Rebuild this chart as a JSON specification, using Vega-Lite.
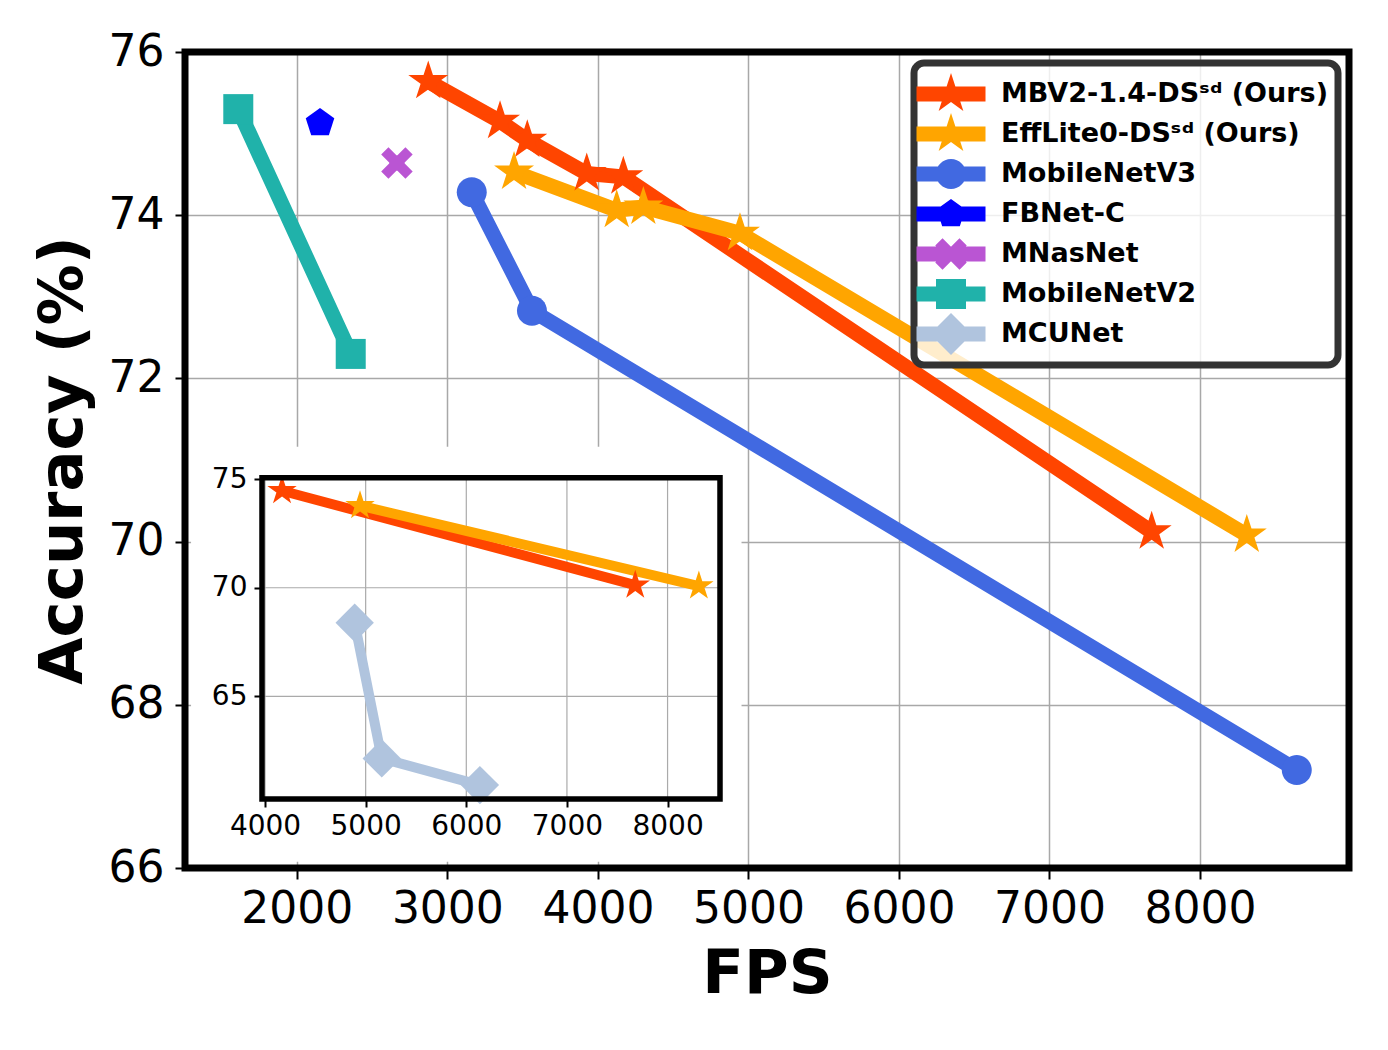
{
  "$schema": "https://vega.github.io/schema/vega-lite/v6.json",
  "width": 1164,
  "height": 816,
  "autosize": {"type": "none"},
  "padding": {"left": 185, "top": 52, "right": 39, "bottom": 182},
  "background": "white",
  "config": {
    "view": {"stroke": null},
    "font": "DejaVu Sans",
    "axis": {"labelFont": "DejaVu Sans", "titleFont": "DejaVu Sans"},
    "legend": {"strokeWidth": 7, "labelFont": "DejaVu Sans"}
  },
  "datasets": {
    "main": [
      {"model": "MBV2-1.4-DSˢᵈ (Ours)", "fps": 2873, "acc": 75.64},
      {"model": "MBV2-1.4-DSˢᵈ (Ours)", "fps": 3350, "acc": 75.15},
      {"model": "MBV2-1.4-DSˢᵈ (Ours)", "fps": 3531, "acc": 74.92},
      {"model": "MBV2-1.4-DSˢᵈ (Ours)", "fps": 3926, "acc": 74.51},
      {"model": "MBV2-1.4-DSˢᵈ (Ours)", "fps": 4169, "acc": 74.47},
      {"model": "MBV2-1.4-DSˢᵈ (Ours)", "fps": 7679, "acc": 70.12},
      {"model": "EffLite0-DSˢᵈ (Ours)", "fps": 3443, "acc": 74.53},
      {"model": "EffLite0-DSˢᵈ (Ours)", "fps": 4125, "acc": 74.06},
      {"model": "EffLite0-DSˢᵈ (Ours)", "fps": 4302, "acc": 74.10},
      {"model": "EffLite0-DSˢᵈ (Ours)", "fps": 4944, "acc": 73.78},
      {"model": "EffLite0-DSˢᵈ (Ours)", "fps": 8311, "acc": 70.08},
      {"model": "MobileNetV3", "fps": 3162, "acc": 74.28},
      {"model": "MobileNetV3", "fps": 3562, "acc": 72.83},
      {"model": "MobileNetV3", "fps": 8643, "acc": 67.20},
      {"model": "FBNet-C", "fps": 2154, "acc": 75.13},
      {"model": "MNasNet", "fps": 2665, "acc": 74.64},
      {"model": "MobileNetV2", "fps": 1611, "acc": 75.30},
      {"model": "MobileNetV2", "fps": 2358, "acc": 72.30}
    ],
    "inset": [
      {"model": "MBV2-1.4-DSˢᵈ (Ours)", "fps": 4169, "acc": 74.47},
      {"model": "MBV2-1.4-DSˢᵈ (Ours)", "fps": 7679, "acc": 70.12},
      {"model": "EffLite0-DSˢᵈ (Ours)", "fps": 4944, "acc": 73.78},
      {"model": "EffLite0-DSˢᵈ (Ours)", "fps": 8311, "acc": 70.08},
      {"model": "MCUNet", "fps": 4891, "acc": 68.39},
      {"model": "MCUNet", "fps": 5160, "acc": 62.14},
      {"model": "MCUNet", "fps": 6135, "acc": 60.91}
    ],
    "insetGridX": [{"v": 4000}, {"v": 5000}, {"v": 6000}, {"v": 7000}, {"v": 8000}],
    "insetGridY": [{"v": 65}, {"v": 70}, {"v": 75}]
  },
  "layer": [
    {
      "layer": [
        {
          "data": {"name": "main"},
          "mark": {"type": "line", "strokeWidth": 15, "strokeJoin": "round", "strokeCap": "round"},
          "encoding": {
            "x": {
              "field": "fps", "type": "quantitative",
              "scale": {"domain": [1257, 8990], "nice": false, "zero": false},
              "axis": {
                "title": "FPS", "titleFontSize": 61, "titleFontWeight": "bold", "titleColor": "black", "titlePadding": 13,
                "labelFontSize": 44, "labelColor": "black", "labelPadding": 8, "labelFlush": false, "labelOverlap": false,
                "tickSize": 11, "tickWidth": 2, "tickColor": "black", "domain": false,
                "grid": true, "gridColor": "#a8a8a8", "gridWidth": 1.5,
                "values": [2000, 3000, 4000, 5000, 6000, 7000, 8000], "format": "d", "zindex": 0
              }
            },
            "y": {
              "field": "acc", "type": "quantitative",
              "scale": {"domain": [66, 76], "nice": false, "zero": false},
              "axis": {
                "title": "Accuracy (%)", "titleFontSize": 61, "titleFontWeight": "bold", "titleColor": "black", "titlePadding": 14,
                "labelFontSize": 44, "labelColor": "black", "labelPadding": 11, "labelFlush": false, "labelOverlap": false,
                "tickSize": 10, "tickWidth": 2, "tickColor": "black", "domain": false,
                "grid": true, "gridColor": "#a8a8a8", "gridWidth": 1.5,
                "values": [66, 68, 70, 72, 74, 76], "format": "d", "zindex": 0
              }
            },
            "color": {
              "field": "model", "type": "nominal", "legend": null,
              "scale": {
                "domain": ["MBV2-1.4-DSˢᵈ (Ours)", "EffLite0-DSˢᵈ (Ours)", "MobileNetV3", "FBNet-C", "MNasNet", "MobileNetV2", "MCUNet"],
                "range": ["#FF4500", "#FFA500", "#4169E1", "#0000FF", "#BA55D3", "#20B2AA", "#B0C4DE"]
              }
            }
          }
        },
        {
          "data": {"name": "main"},
          "mark": {"type": "point", "filled": true, "size": 900, "opacity": 1, "strokeWidth": 0},
          "encoding": {
            "x": {"field": "fps", "type": "quantitative"},
            "y": {"field": "acc", "type": "quantitative"},
            "color": {
              "field": "model", "type": "nominal", "legend": null,
              "scale": {
                "domain": ["MBV2-1.4-DSˢᵈ (Ours)", "EffLite0-DSˢᵈ (Ours)", "MobileNetV3", "FBNet-C", "MNasNet", "MobileNetV2", "MCUNet"],
                "range": ["#FF4500", "#FFA500", "#4169E1", "#0000FF", "#BA55D3", "#20B2AA", "#B0C4DE"]
              }
            },
            "shape": {
              "field": "model", "type": "nominal", "legend": null,
              "scale": {
                "domain": ["MBV2-1.4-DSˢᵈ (Ours)", "EffLite0-DSˢᵈ (Ours)", "MobileNetV3", "FBNet-C", "MNasNet", "MobileNetV2", "MCUNet"],
                "range": [
                  "M0,-1.4L0.314,-0.433L1.331,-0.433L0.509,0.165L0.823,1.133L0,0.535L-0.823,1.133L-0.509,0.165L-1.331,-0.433L-0.314,-0.433Z",
                  "M0,-1.4L0.314,-0.433L1.331,-0.433L0.509,0.165L0.823,1.133L0,0.535L-0.823,1.133L-0.509,0.165L-1.331,-0.433L-0.314,-0.433Z",
                  "M1,0C1,0.5523,0.5523,1,0,1C-0.5523,1,-1,0.5523,-1,0C-1,-0.5523,-0.5523,-1,0,-1C0.5523,-1,1,-0.5523,1,0Z",
                  "M0,-1L0.951,-0.309L0.588,0.809L-0.588,0.809L-0.951,-0.309Z",
                  "M0.566,-1.05L1.05,-0.566L0.484,0L1.05,0.566L0.566,1.05L0,0.484L-0.566,1.05L-1.05,0.566L-0.484,0L-1.05,-0.566L-0.566,-1.05L0,-0.484Z",
                  "M-1,-1H1V1H-1Z",
                  "M0,-1.33L1.33,0L0,1.33L-1.33,0Z"
                ]
              }
            }
          }
        },
        {
          "data": {"name": "main"},
          "mark": {"type": "point", "filled": true, "size": 900, "opacity": 0},
          "encoding": {
            "x": {"field": "fps", "type": "quantitative"},
            "y": {"field": "acc", "type": "quantitative"},
            "color": {
              "field": "model", "type": "nominal",
              "scale": {
                "domain": ["MBV2-1.4-DSˢᵈ (Ours)", "EffLite0-DSˢᵈ (Ours)", "MobileNetV3", "FBNet-C", "MNasNet", "MobileNetV2", "MCUNet"],
                "range": ["#FF4500", "#FFA500", "#4169E1", "#0000FF", "#BA55D3", "#20B2AA", "#B0C4DE"]
              },
              "legend": {
                "title": " ", "titleFontSize": 2, "titlePadding": 4, "orient": "top-right", "offset": 11,
                "labelFontSize": 27, "labelFontWeight": "bold", "labelColor": "black", "labelLimit": 0,
                "symbolSize": 900, "symbolStrokeWidth": 0, "symbolOpacity": 1,
                "symbolOffset": 12, "labelOffset": 35, "rowPadding": -2, "padding": 10,
                "fillColor": "rgba(255,255,255,0.8)", "strokeColor": "#333333", "cornerRadius": 10
              }
            },
            "shape": {
              "field": "model", "type": "nominal",
              "scale": {
                "domain": ["MBV2-1.4-DSˢᵈ (Ours)", "EffLite0-DSˢᵈ (Ours)", "MobileNetV3", "FBNet-C", "MNasNet", "MobileNetV2", "MCUNet"],
                "range": [
                  "M0,-1.4L0,1.4ZM-2.3,-0.5H2.3V0.5H-2.3ZM0,-1.4L0.314,-0.433L1.331,-0.433L0.509,0.165L0.823,1.133L0,0.535L-0.823,1.133L-0.509,0.165L-1.331,-0.433L-0.314,-0.433Z",
                  "M0,-1.4L0,1.4ZM-2.3,-0.5H2.3V0.5H-2.3ZM0,-1.4L0.314,-0.433L1.331,-0.433L0.509,0.165L0.823,1.133L0,0.535L-0.823,1.133L-0.509,0.165L-1.331,-0.433L-0.314,-0.433Z",
                  "M0,-1.4L0,1.4ZM-2.3,-0.5H2.3V0.5H-2.3ZM1,0C1,0.5523,0.5523,1,0,1C-0.5523,1,-1,0.5523,-1,0C-1,-0.5523,-0.5523,-1,0,-1C0.5523,-1,1,-0.5523,1,0Z",
                  "M0,-1.4L0,1.4ZM-2.3,-0.5H2.3V0.5H-2.3ZM0,-1L0.951,-0.309L0.588,0.809L-0.588,0.809L-0.951,-0.309Z",
                  "M0,-1.4L0,1.4ZM-2.3,-0.5H2.3V0.5H-2.3ZM0.566,-1.05L1.05,-0.566L0.484,0L1.05,0.566L0.566,1.05L0,0.484L-0.566,1.05L-1.05,0.566L-0.484,0L-1.05,-0.566L-0.566,-1.05L0,-0.484Z",
                  "M0,-1.4L0,1.4ZM-2.3,-0.5H2.3V0.5H-2.3ZM-1,-1H1V1H-1Z",
                  "M0,-1.4L0,1.4ZM-2.3,-0.5H2.3V0.5H-2.3ZM0,-1.4L1.4,0L0,1.4L-1.4,0Z"
                ]
              },
              "legend": {
                "title": " ", "titleFontSize": 2, "titlePadding": 4, "orient": "top-right", "offset": 11,
                "labelFontSize": 27, "labelFontWeight": "bold", "labelColor": "black", "labelLimit": 0,
                "symbolSize": 900, "symbolStrokeWidth": 0, "symbolOpacity": 1,
                "symbolOffset": 12, "labelOffset": 35, "rowPadding": -2, "padding": 10,
                "fillColor": "rgba(255,255,255,0.8)", "strokeColor": "#333333", "cornerRadius": 10
              }
            }
          }
        },
        {
          "data": {"values": [{}]},
          "mark": {"type": "rect", "fill": "transparent", "stroke": "black", "strokeWidth": 7},
          "encoding": {
            "x": {"datum": 1257, "type": "quantitative"},
            "x2": {"datum": 8990},
            "y": {"datum": 66, "type": "quantitative"},
            "y2": {"datum": 76}
          }
        }
      ],
      "resolve": {"scale": {"color": "independent", "shape": "independent"}}
    },
    {
      "layer": [
        {
          "data": {"values": [{}]},
          "mark": {"type": "rect", "fill": "white", "strokeWidth": 0},
          "encoding": {
            "x": {
              "datum": 3265, "type": "quantitative",
              "scale": {"domain": [3970, 8521], "range": [77, 535], "nice": false, "zero": false},
              "axis": {
                "orient": "bottom", "offset": -69, "title": null, "grid": false, "domain": false,
                "tickSize": 8, "tickWidth": 2, "tickColor": "black",
                "labelFontSize": 28, "labelColor": "black", "labelPadding": 5, "labelFlush": false, "labelOverlap": false,
                "values": [4000, 5000, 6000, 7000, 8000], "format": "d", "zindex": 2
              }
            },
            "x2": {"datum": 8735},
            "y": {
              "datum": 57.38, "type": "quantitative",
              "scale": {"domain": [60.27, 75.07], "range": [747, 425.7], "nice": false, "zero": false},
              "axis": {
                "orient": "left", "offset": -77, "title": null, "grid": false, "domain": false,
                "tickSize": 8, "tickWidth": 2, "tickColor": "black",
                "labelFontSize": 28, "labelColor": "black", "labelPadding": 7, "labelFlush": false, "labelOverlap": false,
                "values": [65, 70, 75], "format": "d", "zindex": 2
              }
            },
            "y2": {"datum": 76.5}
          }
        },
        {
          "data": {"name": "insetGridX"},
          "mark": {"type": "rule", "color": "#aaaaaa", "strokeWidth": 1.2},
          "encoding": {
            "x": {"field": "v", "type": "quantitative"},
            "y": {"datum": 60.27, "type": "quantitative"},
            "y2": {"datum": 75.07}
          }
        },
        {
          "data": {"name": "insetGridY"},
          "mark": {"type": "rule", "color": "#aaaaaa", "strokeWidth": 1.2},
          "encoding": {
            "y": {"field": "v", "type": "quantitative"},
            "x": {"datum": 3970, "type": "quantitative"},
            "x2": {"datum": 8521}
          }
        },
        {
          "data": {"name": "inset"},
          "mark": {"type": "line", "strokeWidth": 10, "strokeJoin": "round", "strokeCap": "round"},
          "encoding": {
            "x": {"field": "fps", "type": "quantitative"},
            "y": {"field": "acc", "type": "quantitative"},
            "color": {
              "field": "model", "type": "nominal", "legend": null,
              "scale": {
                "domain": ["MBV2-1.4-DSˢᵈ (Ours)", "EffLite0-DSˢᵈ (Ours)", "MCUNet"],
                "range": ["#FF4500", "#FFA500", "#B0C4DE"]
              }
            }
          }
        },
        {
          "data": {"name": "inset"},
          "mark": {"type": "point", "filled": true, "size": 900, "opacity": 1, "strokeWidth": 0},
          "encoding": {
            "x": {"field": "fps", "type": "quantitative"},
            "y": {"field": "acc", "type": "quantitative"},
            "color": {
              "field": "model", "type": "nominal", "legend": null,
              "scale": {
                "domain": ["MBV2-1.4-DSˢᵈ (Ours)", "EffLite0-DSˢᵈ (Ours)", "MCUNet"],
                "range": ["#FF4500", "#FFA500", "#B0C4DE"]
              }
            },
            "shape": {
              "field": "model", "type": "nominal", "legend": null,
              "scale": {
                "domain": ["MBV2-1.4-DSˢᵈ (Ours)", "EffLite0-DSˢᵈ (Ours)", "MCUNet"],
                "range": [
                  "M0,-1.03L0.231,-0.318L0.98,-0.318L0.374,0.121L0.605,0.833L0,0.393L-0.605,0.833L-0.374,0.121L-0.98,-0.318L-0.231,-0.318Z",
                  "M0,-1.03L0.231,-0.318L0.98,-0.318L0.374,0.121L0.605,0.833L0,0.393L-0.605,0.833L-0.374,0.121L-0.98,-0.318L-0.231,-0.318Z",
                  "M0,-1.28L1.28,0L0,1.28L-1.28,0Z"
                ]
              }
            }
          }
        },
        {
          "data": {"values": [{}]},
          "mark": {"type": "rect", "fill": "transparent", "stroke": "black", "strokeWidth": 5.5},
          "encoding": {
            "x": {"datum": 3970, "type": "quantitative"},
            "x2": {"datum": 8521},
            "y": {"datum": 60.27, "type": "quantitative"},
            "y2": {"datum": 75.07}
          }
        }
      ],
      "resolve": {"scale": {"color": "independent", "shape": "independent"}}
    }
  ],
  "resolve": {
    "scale": {"x": "independent", "y": "independent", "color": "independent", "shape": "independent"},
    "axis": {"x": "independent", "y": "independent"}
  }
}
